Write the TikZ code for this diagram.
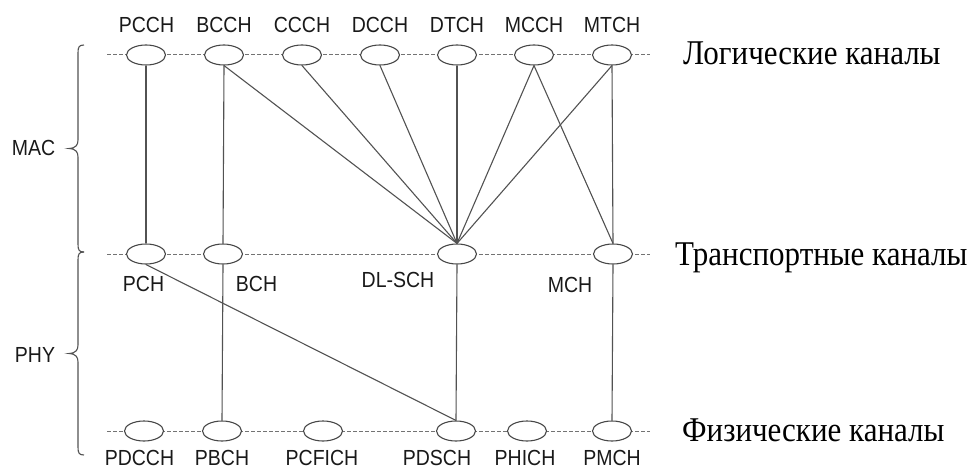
\documentclass[tikz,border=0pt]{standalone}
\usepackage{fontspec}
\usepackage{graphicx}
\setmainfont{Liberation Serif}
\setsansfont{Liberation Sans}
\usetikzlibrary{shapes.geometric}
\newcommand\vstretch[1]{\scalebox{1}[1.12]{#1}}
\begin{document}
\begin{tikzpicture}[x=1pt,y=-1pt,
 ch/.style={ellipse,draw=black!72,fill=white,minimum width=39pt,minimum height=20pt,inner sep=0pt,line width=1.1pt},
 lnk/.style={draw=black!68,line width=1.1pt},
 lvl/.style={draw=black!55,dash pattern=on 4pt off 2pt,line width=1pt},
 lab/.style={font=\sffamily\fontsize{19.5}{19.5}\selectfont,text=black!90,anchor=base,inner sep=0pt},
 ru/.style={font=\fontsize{31}{31}\selectfont,anchor=base west,inner sep=0pt},
 brc/.style={draw=black!68,line width=1.1pt}]
\useasboundingbox (0,0) rectangle (974,468);

% level lines
\coordinate (l1) at (107,55);  \coordinate (r1) at (650,55);
\coordinate (l2) at (107,254); \coordinate (r2) at (650,254);
\coordinate (l3) at (107,431); \coordinate (r3) at (650,431);
\draw[lvl] (l1) -- (r1);
\draw[lvl] (l2) -- (r2);
\draw[lvl] (l3) -- (r3);

% logical channels
\node[ch] (pcch) at (146,55) {};
\node[ch] (bcch) at (224,55) {};
\node[ch] (ccch) at (302,55) {};
\node[ch] (dcch) at (380,55) {};
\node[ch] (dtch) at (457,55) {};
\node[ch] (mcch) at (534,55) {};
\node[ch] (mtch) at (612,55) {};
% transport channels
\node[ch] (pch)  at (146,254) {};
\node[ch] (bch)  at (223,254) {};
\node[ch] (dlsch) at (457,254) {};
\node[ch] (mch)  at (613,254) {};
% physical channels
\node[ch] (pdcch)  at (144,431) {};
\node[ch] (pbch)   at (222,431) {};
\node[ch] (pcfich) at (323,431) {};
\node[ch] (pdsch)  at (456,431) {};
\node[ch] (phich)  at (527,431) {};
\node[ch] (pmch)   at (612,431) {};

% labels
\node[lab] (tpcch) at (146.5,33) {\vstretch{PCCH}};
\node[lab] (tbcch) at (224,33) {\vstretch{BCCH}};
\node[lab] (tccch) at (302,33) {\vstretch{CCCH}};
\node[lab] (tdcch) at (380,33) {\vstretch{DCCH}};
\node[lab] (tdtch) at (457,33) {\vstretch{DTCH}};
\node[lab] (tmcch) at (534,33) {\vstretch{MCCH}};
\node[lab] (tmtch) at (612,33) {\vstretch{MTCH}};

\node[lab] (tpch)  at (143.5,291) {\vstretch{PCH}};
\node[lab] (tbch)  at (256.5,291) {\vstretch{BCH}};
\node[lab] (tdlsch) at (398,287) {\vstretch{DL-SCH}};
\node[lab] (tmch)  at (570,292) {\vstretch{MCH}};

\node[lab] (tpdcch)  at (139.5,465) {\vstretch{PDCCH}};
\node[lab] (tpbch)   at (222,465) {\vstretch{PBCH}};
\node[lab] (tpcfich) at (322,465) {\vstretch{PCFICH}};
\node[lab] (tpdsch)  at (437,465) {\vstretch{PDSCH}};
\node[lab] (tphich)  at (525,465) {\vstretch{PHICH}};
\node[lab] (tpmch)   at (612,465) {\vstretch{PMCH}};

\node[ru] (rlog) at (683,65) {\vstretch{Логические каналы}};
\node[ru] (rtr)  at (675,265) {\vstretch{Транспортные каналы}};
\node[ru] (rph)  at (682,441) {\vstretch{Физические каналы}};

\node[lab] (mac) at (33.5,155) {\vstretch{MAC}};
\node[lab] (phy) at (35,362) {\vstretch{PHY}};

% links
\draw[lnk] (pcch.south) -- (pch.north);
\draw[lnk] (bcch.south) -- (bch.north);
\draw[lnk] (bcch.south) -- (dlsch.north);
\draw[lnk] (ccch.south) -- (dlsch.north);
\draw[lnk] (dcch.south) -- (dlsch.north);
\draw[lnk] (dtch.south) -- (dlsch.north);
\draw[lnk] (mcch.south) -- (dlsch.north);
\draw[lnk] (mtch.south) -- (dlsch.north);
\draw[lnk] (mcch.south) -- (mch.north);
\draw[lnk] (mtch.south) -- (mch.north);
\draw[lnk] (pch.south) -- (pdsch.north);
\draw[lnk] (bch.south) -- (pbch.north);
\draw[lnk] (dlsch.south) -- (pdsch.north);
\draw[lnk] (mch.south) -- (pmch.north);

% braces
\draw[brc] (84,45) .. controls (79,45) and (78,47) .. (78,53) -- (78,140)
  .. controls (78,145) and (76,148) .. (69,148.5)
  .. controls (76,149) and (78,152) .. (78,157) -- (78,244)
  .. controls (78,250) and (79,252) .. (84,252);
\draw[brc] (84,252) .. controls (79,252) and (78,254) .. (78,260) -- (78,345)
  .. controls (78,350) and (76,353) .. (69,353.5)
  .. controls (76,354) and (78,357) .. (78,362) -- (78,447)
  .. controls (78,453) and (79,455) .. (84,455);
\end{tikzpicture}
\end{document}
